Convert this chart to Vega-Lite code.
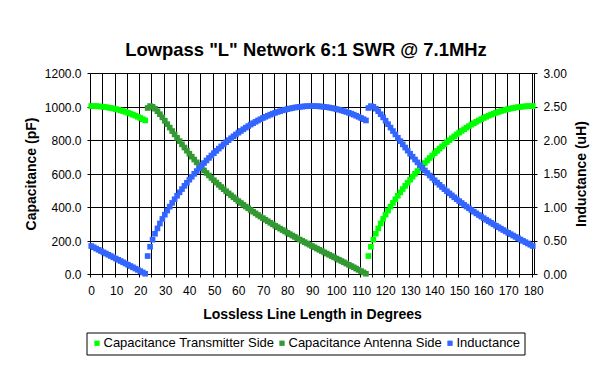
{
"$schema":"https://vega.github.io/schema/vega-lite/v6.json",
"width":444,"height":201,
"autosize":{"type":"none"},
"padding":{"left":90,"top":73,"right":77,"bottom":107},
"background":"white",
"title":{"text":"Lowpass \"L\" Network 6:1 SWR @ 7.1MHz","anchor":"middle","frame":"group","dx":-6,"offset":8,"fontSize":18.4,"fontWeight":"bold","font":"Liberation Sans","color":"black"},
"config":{
 "view":{"stroke":null},
 "font":"Liberation Sans",
 "legend":{"strokeWidth":1},
 "axis":{"labelFont":"Liberation Sans","labelFontSize":12,"labelColor":"black","titleFont":"Liberation Sans","titleFontSize":14,"titleFontWeight":"bold","titleColor":"black","domainColor":"black","domainWidth":1,"tickColor":"black","tickWidth":1,"tickSize":3,"gridColor":"black","gridOpacity":1,"gridWidth":1,"labelFlush":false,"labelOverlap":false,"labelBound":false}
},
"datasets":{
"tx":[{"deg":0,"pF":1002.5},{"deg":1,"pF":1002.3},{"deg":2,"pF":1001.8},{"deg":3,"pF":1000.9},{"deg":4,"pF":999.6},{"deg":5,"pF":998.0},{"deg":6,"pF":996.1},{"deg":7,"pF":993.8},{"deg":8,"pF":991.1},{"deg":9,"pF":988.1},{"deg":10,"pF":984.7},{"deg":11,"pF":981.0},{"deg":12,"pF":976.9},{"deg":13,"pF":972.5},{"deg":14,"pF":967.7},{"deg":15,"pF":962.5},{"deg":16,"pF":957.0},{"deg":17,"pF":951.2},{"deg":18,"pF":945.0},{"deg":19,"pF":938.5},{"deg":20,"pF":931.6},{"deg":21,"pF":924.3},{"deg":22,"pF":916.8},
{"deg":113,"pF":107.3},{"deg":114,"pF":162.7},{"deg":115,"pF":204.7},{"deg":116,"pF":240.5},{"deg":117,"pF":272.3},{"deg":118,"pF":301.5},{"deg":119,"pF":328.8},{"deg":120,"pF":354.4},{"deg":121,"pF":378.8},{"deg":122,"pF":402.2},{"deg":123,"pF":424.6},{"deg":124,"pF":446.2},{"deg":125,"pF":467.2},{"deg":126,"pF":487.4},{"deg":127,"pF":507.1},{"deg":128,"pF":526.2},{"deg":129,"pF":544.9},{"deg":130,"pF":563.0},{"deg":131,"pF":580.7},{"deg":132,"pF":597.9},{"deg":133,"pF":614.7},{"deg":134,"pF":631.1},{"deg":135,"pF":647.1},{"deg":136,"pF":662.7},{"deg":137,"pF":678.0},{"deg":138,"pF":692.8},{"deg":139,"pF":707.3},{"deg":140,"pF":721.5},{"deg":141,"pF":735.3},{"deg":142,"pF":748.7},{"deg":143,"pF":761.8},{"deg":144,"pF":774.5},{"deg":145,"pF":786.9},{"deg":146,"pF":799.0},{"deg":147,"pF":810.7},{"deg":148,"pF":822.0},{"deg":149,"pF":833.1},{"deg":150,"pF":843.7},{"deg":151,"pF":854.1},{"deg":152,"pF":864.0},{"deg":153,"pF":873.7},{"deg":154,"pF":883.0},{"deg":155,"pF":892.0},{"deg":156,"pF":900.6},{"deg":157,"pF":908.8},{"deg":158,"pF":916.8},{"deg":159,"pF":924.3},{"deg":160,"pF":931.6},{"deg":161,"pF":938.5},{"deg":162,"pF":945.0},{"deg":163,"pF":951.2},{"deg":164,"pF":957.0},{"deg":165,"pF":962.5},{"deg":166,"pF":967.7},{"deg":167,"pF":972.5},{"deg":168,"pF":976.9},{"deg":169,"pF":981.0},{"deg":170,"pF":984.7},{"deg":171,"pF":988.1},{"deg":172,"pF":991.1},{"deg":173,"pF":993.8},{"deg":174,"pF":996.1},{"deg":175,"pF":998.0},{"deg":176,"pF":999.6},{"deg":177,"pF":1000.9},{"deg":178,"pF":1001.8},{"deg":179,"pF":1002.3},{"deg":180,"pF":1002.5}],
"ant":[{"deg":23,"pF":991.2},{"deg":24,"pF":1002.4},{"deg":25,"pF":998.3},{"deg":26,"pF":987.0},{"deg":27,"pF":971.7},{"deg":28,"pF":954.0},{"deg":29,"pF":934.9},{"deg":30,"pF":915.0},{"deg":31,"pF":894.6},{"deg":32,"pF":874.1},{"deg":33,"pF":853.6},{"deg":34,"pF":833.2},{"deg":35,"pF":813.1},{"deg":36,"pF":793.3},{"deg":37,"pF":773.9},{"deg":38,"pF":754.9},{"deg":39,"pF":736.4},{"deg":40,"pF":718.2},{"deg":41,"pF":700.5},{"deg":42,"pF":683.2},{"deg":43,"pF":666.4},{"deg":44,"pF":650.0},{"deg":45,"pF":634.0},{"deg":46,"pF":618.4},{"deg":47,"pF":603.1},{"deg":48,"pF":588.3},{"deg":49,"pF":573.8},{"deg":50,"pF":559.7},{"deg":51,"pF":545.9},{"deg":52,"pF":532.5},{"deg":53,"pF":519.3},{"deg":54,"pF":506.5},{"deg":55,"pF":493.9},{"deg":56,"pF":481.7},{"deg":57,"pF":469.7},{"deg":58,"pF":457.9},{"deg":59,"pF":446.4},{"deg":60,"pF":435.1},{"deg":61,"pF":424.1},{"deg":62,"pF":413.2},{"deg":63,"pF":402.6},{"deg":64,"pF":392.2},{"deg":65,"pF":381.9},{"deg":66,"pF":371.9},{"deg":67,"pF":362.0},{"deg":68,"pF":352.2},{"deg":69,"pF":342.7},{"deg":70,"pF":333.3},{"deg":71,"pF":324.0},{"deg":72,"pF":314.8},{"deg":73,"pF":305.8},{"deg":74,"pF":296.9},{"deg":75,"pF":288.2},{"deg":76,"pF":279.5},{"deg":77,"pF":270.9},{"deg":78,"pF":262.5},{"deg":79,"pF":254.1},{"deg":80,"pF":245.9},{"deg":81,"pF":237.7},{"deg":82,"pF":229.6},{"deg":83,"pF":221.6},{"deg":84,"pF":213.6},{"deg":85,"pF":205.7},{"deg":86,"pF":197.9},{"deg":87,"pF":190.1},{"deg":88,"pF":182.4},{"deg":89,"pF":174.7},{"deg":90,"pF":167.1},{"deg":91,"pF":159.5},{"deg":92,"pF":151.9},{"deg":93,"pF":144.4},{"deg":94,"pF":136.9},{"deg":95,"pF":129.4},{"deg":96,"pF":122.0},{"deg":97,"pF":114.6},{"deg":98,"pF":107.1},{"deg":99,"pF":99.7},{"deg":100,"pF":92.3},{"deg":101,"pF":84.9},{"deg":102,"pF":77.4},{"deg":103,"pF":70.0},{"deg":104,"pF":62.5},{"deg":105,"pF":55.0},{"deg":106,"pF":47.5},{"deg":107,"pF":40.0},{"deg":108,"pF":32.4},{"deg":109,"pF":24.8},{"deg":110,"pF":17.1},{"deg":111,"pF":9.4},{"deg":112,"pF":1.6}],
"ind":[{"deg":0,"uH":0.4177},{"deg":1,"uH":0.3987},{"deg":2,"uH":0.3799},{"deg":3,"uH":0.3610},{"deg":4,"uH":0.3423},{"deg":5,"uH":0.3236},{"deg":6,"uH":0.3050},{"deg":7,"uH":0.2864},{"deg":8,"uH":0.2678},{"deg":9,"uH":0.2493},{"deg":10,"uH":0.2307},{"deg":11,"uH":0.2121},{"deg":12,"uH":0.1936},{"deg":13,"uH":0.1750},{"deg":14,"uH":0.1563},{"deg":15,"uH":0.1376},{"deg":16,"uH":0.1188},{"deg":17,"uH":0.1000},{"deg":18,"uH":0.0810},{"deg":19,"uH":0.0620},{"deg":20,"uH":0.0428},{"deg":21,"uH":0.0235},{"deg":22,"uH":0.0041},
{"deg":23,"uH":0.2681},{"deg":24,"uH":0.4067},{"deg":25,"uH":0.5118},{"deg":26,"uH":0.6011},{"deg":27,"uH":0.6808},{"deg":28,"uH":0.7538},{"deg":29,"uH":0.8219},{"deg":30,"uH":0.8861},{"deg":31,"uH":0.9471},{"deg":32,"uH":1.0054},{"deg":33,"uH":1.0615},{"deg":34,"uH":1.1156},{"deg":35,"uH":1.1679},{"deg":36,"uH":1.2185},{"deg":37,"uH":1.2677},{"deg":38,"uH":1.3156},{"deg":39,"uH":1.3621},{"deg":40,"uH":1.4074},{"deg":41,"uH":1.4516},{"deg":42,"uH":1.4947},{"deg":43,"uH":1.5367},{"deg":44,"uH":1.5777},{"deg":45,"uH":1.6177},{"deg":46,"uH":1.6568},{"deg":47,"uH":1.6949},{"deg":48,"uH":1.7321},{"deg":49,"uH":1.7683},{"deg":50,"uH":1.8037},{"deg":51,"uH":1.8381},{"deg":52,"uH":1.8717},{"deg":53,"uH":1.9045},{"deg":54,"uH":1.9363},{"deg":55,"uH":1.9673},{"deg":56,"uH":1.9974},{"deg":57,"uH":2.0267},{"deg":58,"uH":2.0550},{"deg":59,"uH":2.0826},{"deg":60,"uH":2.1093},{"deg":61,"uH":2.1351},{"deg":62,"uH":2.1601},{"deg":63,"uH":2.1842},{"deg":64,"uH":2.2074},{"deg":65,"uH":2.2298},{"deg":66,"uH":2.2514},{"deg":67,"uH":2.2720},{"deg":68,"uH":2.2919},{"deg":69,"uH":2.3108},{"deg":70,"uH":2.3289},{"deg":71,"uH":2.3461},{"deg":72,"uH":2.3625},{"deg":73,"uH":2.3779},{"deg":74,"uH":2.3925},{"deg":75,"uH":2.4063},{"deg":76,"uH":2.4191},{"deg":77,"uH":2.4311},{"deg":78,"uH":2.4422},{"deg":79,"uH":2.4524},{"deg":80,"uH":2.4617},{"deg":81,"uH":2.4701},{"deg":82,"uH":2.4777},{"deg":83,"uH":2.4844},{"deg":84,"uH":2.4902},{"deg":85,"uH":2.4950},{"deg":86,"uH":2.4991},{"deg":87,"uH":2.5022},{"deg":88,"uH":2.5044},{"deg":89,"uH":2.5057},{"deg":90,"uH":2.5062},{"deg":91,"uH":2.5057},{"deg":92,"uH":2.5044},{"deg":93,"uH":2.5022},{"deg":94,"uH":2.4991},{"deg":95,"uH":2.4950},{"deg":96,"uH":2.4902},{"deg":97,"uH":2.4844},{"deg":98,"uH":2.4777},{"deg":99,"uH":2.4701},{"deg":100,"uH":2.4617},{"deg":101,"uH":2.4524},{"deg":102,"uH":2.4422},{"deg":103,"uH":2.4311},{"deg":104,"uH":2.4191},{"deg":105,"uH":2.4063},{"deg":106,"uH":2.3925},{"deg":107,"uH":2.3779},{"deg":108,"uH":2.3625},{"deg":109,"uH":2.3461},{"deg":110,"uH":2.3289},{"deg":111,"uH":2.3108},{"deg":112,"uH":2.2919},
{"deg":113,"uH":2.4778},{"deg":114,"uH":2.5060},{"deg":115,"uH":2.4956},{"deg":116,"uH":2.4674},{"deg":117,"uH":2.4292},{"deg":118,"uH":2.3851},{"deg":119,"uH":2.3373},{"deg":120,"uH":2.2875},{"deg":121,"uH":2.2365},{"deg":122,"uH":2.1851},{"deg":123,"uH":2.1338},{"deg":124,"uH":2.0829},{"deg":125,"uH":2.0327},{"deg":126,"uH":1.9833},{"deg":127,"uH":1.9348},{"deg":128,"uH":1.8873},{"deg":129,"uH":1.8409},{"deg":130,"uH":1.7955},{"deg":131,"uH":1.7512},{"deg":132,"uH":1.7081},{"deg":133,"uH":1.6660},{"deg":134,"uH":1.6249},{"deg":135,"uH":1.5849},{"deg":136,"uH":1.5459},{"deg":137,"uH":1.5078},{"deg":138,"uH":1.4707},{"deg":139,"uH":1.4346},{"deg":140,"uH":1.3992},{"deg":141,"uH":1.3648},{"deg":142,"uH":1.3312},{"deg":143,"uH":1.2983},{"deg":144,"uH":1.2662},{"deg":145,"uH":1.2348},{"deg":146,"uH":1.2041},{"deg":147,"uH":1.1741},{"deg":148,"uH":1.1447},{"deg":149,"uH":1.1160},{"deg":150,"uH":1.0878},{"deg":151,"uH":1.0602},{"deg":152,"uH":1.0331},{"deg":153,"uH":1.0065},{"deg":154,"uH":0.9804},{"deg":155,"uH":0.9548},{"deg":156,"uH":0.9296},{"deg":157,"uH":0.9049},{"deg":158,"uH":0.8806},{"deg":159,"uH":0.8567},{"deg":160,"uH":0.8331},{"deg":161,"uH":0.8099},{"deg":162,"uH":0.7871},{"deg":163,"uH":0.7645},{"deg":164,"uH":0.7423},{"deg":165,"uH":0.7204},{"deg":166,"uH":0.6987},{"deg":167,"uH":0.6773},{"deg":168,"uH":0.6562},{"deg":169,"uH":0.6353},{"deg":170,"uH":0.6146},{"deg":171,"uH":0.5942},{"deg":172,"uH":0.5739},{"deg":173,"uH":0.5539},{"deg":174,"uH":0.5340},{"deg":175,"uH":0.5142},{"deg":176,"uH":0.4947},{"deg":177,"uH":0.4752},{"deg":178,"uH":0.4560},{"deg":179,"uH":0.4368},{"deg":180,"uH":0.4177}]
},
"encoding":{
 "x":{"field":"deg","type":"quantitative","scale":{"domain":[-0.5,180.5],"nice":false,"zero":false},
  "axis":{"values":[-0.5,4.3919,9.6914,14.5833,19.4752,24.3671,29.6667,34.5586,39.4505,44.3424,49.6419,54.5338,59.4257,64.3176,69.6172,74.5091,79.4010,84.7005,89.5924,94.4843,99.3762,104.6758,109.5677,114.4596,119.3515,124.6510,129.5429,134.4348,139.3267,144.6262,149.5181,154.4100,159.3019,164.6015,169.4934,174.3853,179.6848],
   "grid":true,"labelExpr":"round(datum.value + 0.5) % 10 == 0 ? format(round(datum.value + 0.5), 'd') : ''","labelOffset":1.2,"labelAngle":0,"labelPadding":8,"title":"Lossless Line Length in Degrees","titlePadding":11}}
},
"layer":[
 {"layer":[
  {"data":{"name":"tx"},"mark":{"type":"square","size":32,"opacity":1,"filled":true},
   "encoding":{"y":{"field":"pF","type":"quantitative","scale":{"domain":[0,1200],"nice":false},"axis":{"orient":"left","values":[0,197.01,400,597.01,800,997.01,1200],"labelExpr":"format(round(datum.value / 200) * 200, '.1f')","grid":true,"labelPadding":6,"title":"Capacitance (pF)","titlePadding":6}},
    "color":{"datum":"Capacitance Transmitter Side","type":"nominal","scale":{"domain":["Capacitance Transmitter Side","Capacitance Antenna Side","Inductance"],"range":["#00FF00","#339933","#3366FF"]},
     "legend":{"orient":"none","legendX":-3.5,"legendY":259.5,"direction":"horizontal","title":null,"strokeColor":"black","fillColor":"white","padding":4,"symbolType":"square","symbolSize":28,"symbolStrokeWidth":0,"labelFont":"Liberation Sans","labelFontSize":13,"labelColor":"black","labelOffset":0,"columnPadding":1,"labelLimit":300}}}},
  {"data":{"name":"ant"},"mark":{"type":"square","size":32,"opacity":1,"filled":true},
   "encoding":{"y":{"field":"pF","type":"quantitative","scale":{"domain":[0,1200],"nice":false},"axis":{"orient":"left","values":[0,197.01,400,597.01,800,997.01,1200],"labelExpr":"format(round(datum.value / 200) * 200, '.1f')","grid":true,"labelPadding":6,"title":"Capacitance (pF)","titlePadding":6}},
    "color":{"datum":"Capacitance Antenna Side","type":"nominal","scale":{"domain":["Capacitance Transmitter Side","Capacitance Antenna Side","Inductance"],"range":["#00FF00","#339933","#3366FF"]}}}}
 ]},
 {"data":{"name":"ind"},"mark":{"type":"square","size":32,"opacity":1,"filled":true},
  "encoding":{"y":{"field":"uH","type":"quantitative","scale":{"domain":[0,3],"nice":false},"axis":{"orient":"right","values":[0,0.49254,1,1.49254,2,2.49254,3],"labelExpr":"format(round(datum.value * 2) / 2, '.2f')","grid":false,"labelPadding":6,"title":"Inductance (uH)","titleAngle":270,"titleBaseline":"top","titlePadding":8}},
   "color":{"datum":"Inductance","type":"nominal","scale":{"domain":["Capacitance Transmitter Side","Capacitance Antenna Side","Inductance"],"range":["#00FF00","#339933","#3366FF"]}}}}
],
"resolve":{"scale":{"y":"independent"}}
}
